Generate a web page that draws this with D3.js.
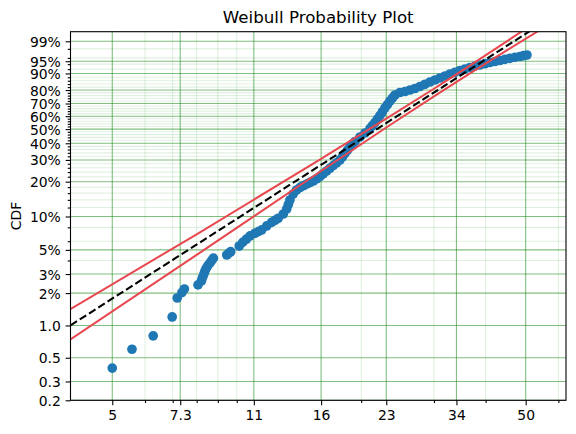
<!DOCTYPE html>
<html>
<head>
<meta charset="utf-8">
<title>Weibull Probability Plot</title>
<script src="https://d3js.org/d3.v7.min.js"></script>
<style>
  body { margin: 0; background: #fff; }
  svg { display: block; font-family: "DejaVu Sans", sans-serif; }
</style>
</head>
<body>
<svg id="chart" width="576" height="434"></svg>
<script>
// failure times (x) and plotted CDF in percent (y)
const failTimes = [5.00, 5.58, 6.28, 6.98, 7.18, 7.37, 7.47, 8.06, 8.22, 8.27, 8.33, 8.38, 8.44, 8.52, 8.62, 8.70, 8.78,
  9.46, 9.56, 9.67, 10.14, 10.34, 10.55,
  10.77, 11.07, 11.28, 11.49, 11.82, 12.15, 12.38, 12.60, 12.96, 13.21, 13.33, 13.45, 13.70, 13.96, 14.23, 14.49, 14.77,
  15.04, 15.32, 15.61, 15.90, 16.19, 16.50, 16.81, 17.12, 17.45, 17.77, 18.03, 18.27, 18.53, 18.79, 19.05, 19.32, 19.87,
  20.43, 21.01, 21.30, 21.60, 21.90, 22.21, 22.52, 22.83, 23.16, 23.48, 23.81, 24.14, 24.82, 25.53, 26.25, 26.99, 27.75,
  28.53, 29.34, 30.17, 31.02, 31.89, 32.79, 33.72, 34.67, 35.65, 36.66, 37.69, 38.75, 39.85, 40.97, 42.13, 43.32, 44.54,
  45.80, 47.09, 48.42, 49.37, 50.35];
const cdfPercent = [0.40, 0.60, 0.80, 1.20, 1.80, 2.02, 2.18, 2.38, 2.60, 2.80, 3.00, 3.20, 3.40, 3.60, 3.80, 4.00, 4.20,
  4.49, 4.65, 4.81, 5.42, 5.86, 6.25,
  6.69, 7.07, 7.31, 7.58, 8.23, 8.88, 9.25, 9.64, 10.52, 11.65, 12.76, 13.96, 15.73, 17.02, 17.87, 18.48, 19.13,
  19.70, 20.28, 21.15, 22.10, 23.25, 24.50, 25.76, 27.12, 28.49, 29.96, 31.73, 33.63, 35.54, 37.59, 39.33, 41.19, 44.28,
  47.14, 50.47, 52.74, 55.05, 57.78, 60.54, 63.47, 66.48, 69.23, 71.95, 74.23, 76.47, 78.28, 78.99, 80.04, 81.07, 82.41,
  83.83, 85.26, 86.46, 87.60, 88.68, 89.72, 90.56, 91.40, 92.06, 92.70, 93.23, 93.69, 94.16, 94.58, 94.92, 95.24, 95.57,
  95.89, 96.14, 96.38, 96.58, 96.75];

// fitted weibull line
const fitBeta = 2.48;
const fitEta = 25.3;

// confidence bounds (CDF as fraction)
const boundX = [3.96, 8, 16, 23, 30, 45, 62.6];
const upperCdf = [0.0142, 0.0693, 0.306, 0.580, 0.809, 0.9899, 0.999979];
const lowerCdf = [0.0074, 0.0450, 0.245, 0.512, 0.7545, 0.97728, 0.999751];

// axis ticks
const xTicks = [5, 7.3, 11, 16, 23, 34, 50];
const xTickLabels = ["5", "7.3", "11", "16", "23", "34", "50"];
const xMinorTicks = [6, 7, 8, 9, 10, 20, 30, 40, 60];
const yTicks = [0.002, 0.003, 0.005, 0.01, 0.02, 0.03, 0.05, 0.1, 0.2, 0.3, 0.4, 0.5, 0.6, 0.7, 0.8, 0.9, 0.95, 0.99];
const yTickLabels = ["0.2", "0.3", "0.5", "1.0", "2%", "3%", "5%", "10%", "20%", "30%", "40%", "50%", "60%", "70%",
  "80%", "90%", "95%", "99%"];
const yMinorTicks = [0.04, 0.06, 0.08, 0.12, 0.14, 0.16, 0.18, 0.22, 0.24, 0.26, 0.28, 0.32, 0.34, 0.36, 0.38,
  0.42, 0.44, 0.46, 0.48, 0.52, 0.54, 0.56, 0.58, 0.62, 0.64, 0.66, 0.68, 0.72, 0.74, 0.76, 0.78,
  0.82, 0.84, 0.86, 0.88, 0.92, 0.94, 0.96, 0.98];

// weibull transform of a cdf value
const weib = p => Math.log(-Math.log(1 - p));

const margin = {left: 70.5, top: 31.7, right: 10, bottom: 33.7};
const width = 576 - margin.left - margin.right;   // ~495.5
const height = 434 - margin.top - margin.bottom;  // ~368.6

const svg = d3.select("#chart");
const g = svg.append("g").attr("transform", `translate(${margin.left},${margin.top})`);

const x = d3.scaleLog().domain([3.962, 62.59]).range([0, width]);
const y = d3.scaleLinear().domain([weib(0.002), 1.734]).range([height, 0]);

svg.append("defs").append("clipPath").attr("id", "clip")
  .append("rect").attr("width", width).attr("height", height);

// grid - minor first, then major
const grid = g.append("g");
grid.selectAll(".vminor").data(xMinorTicks).enter().append("line")
  .attr("x1", d => x(d)).attr("x2", d => x(d)).attr("y1", 0).attr("y2", height)
  .attr("stroke", "green").attr("stroke-opacity", 0.12).attr("stroke-width", 1.1);
grid.selectAll(".hminor").data(yMinorTicks).enter().append("line")
  .attr("x1", 0).attr("x2", width).attr("y1", d => y(weib(d))).attr("y2", d => y(weib(d)))
  .attr("stroke", "green").attr("stroke-opacity", 0.12).attr("stroke-width", 1.1);
grid.selectAll(".vmajor").data(xTicks).enter().append("line")
  .attr("x1", d => x(d)).attr("x2", d => x(d)).attr("y1", 0).attr("y2", height)
  .attr("stroke", "green").attr("stroke-opacity", 0.5).attr("stroke-width", 1.1);
grid.selectAll(".hmajor").data(yTicks).enter().append("line")
  .attr("x1", 0).attr("x2", width).attr("y1", d => y(weib(d))).attr("y2", d => y(weib(d)))
  .attr("stroke", "green").attr("stroke-opacity", 0.5).attr("stroke-width", 1.1);

// data points
const plot = g.append("g").attr("clip-path", "url(#clip)");
plot.selectAll("circle").data(failTimes).enter().append("circle")
  .attr("cx", d => x(d))
  .attr("cy", (d, i) => y(weib(cdfPercent[i] / 100)))
  .attr("r", 4.85)
  .attr("fill", "#1f77b4");

// confidence bounds
const boundLine = d3.line()
  .x(d => x(d[0])).y(d => y(weib(d[1])))
  .curve(d3.curveMonotoneX);
[upperCdf, lowerCdf].forEach(arr => {
  plot.append("path")
    .datum(boundX.map((v, i) => [v, arr[i]]))
    .attr("d", boundLine)
    .attr("fill", "none")
    .attr("stroke", "#e8474f")
    .attr("stroke-width", 2);
});

// fitted line
const fitX = x.domain();
plot.append("path")
  .datum(fitX)
  .attr("d", d3.line().x(d => x(d)).y(d => y(fitBeta * (Math.log(d) - Math.log(fitEta)))))
  .attr("fill", "none")
  .attr("stroke", "black")
  .attr("stroke-width", 2.08)
  .attr("stroke-dasharray", "7.7,3.3");

// axes
const fontSize = 13.9;
const xAxis = g.append("g").attr("transform", `translate(0,${height})`)
  .call(d3.axisBottom(x).tickValues(xTicks).tickFormat((d, i) => xTickLabels[i])
    .tickSize(4.86).tickPadding(4.5).tickSizeOuter(0));
const xMinorAxis = g.append("g").attr("transform", `translate(0,${height})`)
  .call(d3.axisBottom(x).tickValues(xMinorTicks).tickFormat("").tickSize(2.78).tickSizeOuter(0));
const yAxis = g.append("g")
  .call(d3.axisLeft(y).tickValues(yTicks.map(weib)).tickFormat((d, i) => yTickLabels[i])
    .tickSize(4.86).tickPadding(4.86).tickSizeOuter(0));
const yMinorAxis = g.append("g")
  .call(d3.axisLeft(y).tickValues(yMinorTicks.map(weib)).tickFormat("").tickSize(2.78).tickSizeOuter(0));

[xAxis, xMinorAxis, yAxis, yMinorAxis].forEach(a => {
  a.select(".domain").remove();
  a.selectAll(".tick line").attr("stroke", "black").attr("stroke-width", 1.1);
  a.selectAll(".tick text").attr("fill", "black")
    .attr("font-family", "DejaVu Sans").attr("font-size", fontSize);
});
xAxis.selectAll(".tick text").attr("dy", "0.72em");
yAxis.selectAll(".tick text").attr("dy", "0.36em");

// frame
g.append("rect").attr("width", width).attr("height", height)
  .attr("fill", "none").attr("stroke", "black").attr("stroke-width", 1.1);

// title and label
svg.append("text")
  .attr("x", margin.left + width / 2).attr("y", margin.top - 8.3)
  .attr("text-anchor", "middle")
  .attr("font-size", 16.67)
  .text("Weibull Probability Plot");

svg.append("text")
  .attr("transform", `translate(20.5,${margin.top + height / 2}) rotate(-90)`)
  .attr("text-anchor", "middle")
  .attr("font-size", fontSize)
  .text("CDF");
</script>
</body>
</html>
